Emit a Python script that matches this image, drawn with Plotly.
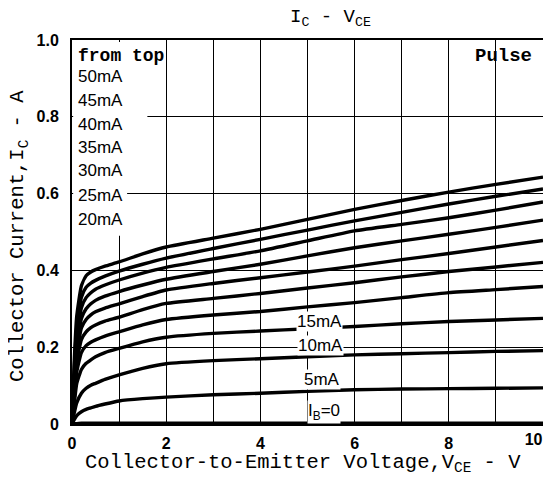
import plotly.graph_objects as go

# Collector-emitter voltage (V)
vce = [0, 0.05, 0.1, 0.2, 0.3, 0.4, 0.5, 0.7, 1, 1.5, 2, 3, 4, 5, 6, 7, 8, 9, 10]

# Collector current (A) for each base current
ic_50 = [0, 0.17, 0.28, 0.36, 0.386, 0.396, 0.402, 0.411, 0.422, 0.443, 0.461, 0.484, 0.507, 0.533, 0.559, 0.582, 0.604, 0.624, 0.643]
ic_45 = [0, 0.15, 0.25, 0.33, 0.356, 0.367, 0.374, 0.385, 0.398, 0.416, 0.432, 0.457, 0.481, 0.505, 0.529, 0.551, 0.573, 0.593, 0.612]
ic_40 = [0, 0.13, 0.225, 0.303, 0.329, 0.342, 0.351, 0.362, 0.375, 0.393, 0.408, 0.430, 0.451, 0.477, 0.503, 0.520, 0.537, 0.557, 0.578]
ic_35 = [0, 0.115, 0.20, 0.275, 0.300, 0.313, 0.322, 0.333, 0.345, 0.362, 0.377, 0.397, 0.416, 0.438, 0.459, 0.477, 0.494, 0.512, 0.531]
ic_30 = [0, 0.10, 0.18, 0.250, 0.272, 0.284, 0.292, 0.302, 0.313, 0.332, 0.349, 0.366, 0.381, 0.396, 0.411, 0.428, 0.444, 0.461, 0.478]
ic_25 = [0, 0.085, 0.16, 0.220, 0.240, 0.251, 0.258, 0.268, 0.278, 0.298, 0.314, 0.327, 0.340, 0.354, 0.368, 0.383, 0.397, 0.409, 0.421]
ic_20 = [0, 0.07, 0.135, 0.186, 0.204, 0.213, 0.219, 0.229, 0.240, 0.258, 0.272, 0.284, 0.293, 0.305, 0.316, 0.329, 0.342, 0.350, 0.358]
ic_15 = [0, 0.055, 0.105, 0.142, 0.158, 0.167, 0.175, 0.186, 0.197, 0.214, 0.226, 0.236, 0.242, 0.248, 0.254, 0.261, 0.267, 0.271, 0.275]
ic_10 = [0, 0.03, 0.055, 0.080, 0.093, 0.101, 0.106, 0.116, 0.128, 0.145, 0.157, 0.165, 0.170, 0.175, 0.180, 0.183, 0.186, 0.189, 0.191]
ic_5 = [0, 0.012, 0.022, 0.032, 0.038, 0.042, 0.046, 0.052, 0.060, 0.066, 0.070, 0.076, 0.080, 0.085, 0.089, 0.091, 0.092, 0.093, 0.094]
ic_0 = [0, 0.001, 0.001, 0.002, 0.002, 0.002, 0.002, 0.002, 0.002, 0.002, 0.002, 0.002, 0.002, 0.002, 0.002, 0.002, 0.002, 0.002, 0.002]

series = [ic_50, ic_45, ic_40, ic_35, ic_30, ic_25, ic_20, ic_15, ic_10, ic_5, ic_0]
series_names = ["50mA", "45mA", "40mA", "35mA", "30mA", "25mA", "20mA", "15mA", "10mA", "5mA", "IB=0"]

# Left legend list
legend_labels = ["50mA", "45mA", "40mA", "35mA", "30mA", "25mA", "20mA"]
legend_y = [0.905, 0.842, 0.779, 0.719, 0.659, 0.596, 0.533]

# Inline labels on lower curves
inline_labels = ["15mA", "10mA", "5mA", "I<sub>B</sub>=0"]
inline_x = [5.25, 5.27, 5.3, 5.35]
inline_y = [0.266, 0.205, 0.115, 0.030]

# x grid every 1 V, labels on even values; the last label sits slightly inside the frame
x_ticks = [0, 1, 2, 3, 4, 5, 6, 7, 8, 9, 10]
x_ticktext = ["0", " ", "2", " ", "4", " ", "6", " ", "8", " ", " "]
x_end_tick = [9.8]
x_end_text = ["10"]
y_ticks = [0, 0.2, 0.4, 0.6, 0.8, 1.0]
y_ticktext = ["0", "0.2", "0.4", "0.6", "0.8", "1.0"]

fig = go.Figure()
for ys, nm in zip(series, series_names):
    fig.add_trace(go.Scatter(x=vce, y=ys, mode="lines", name=nm,
                             line=dict(color="black", width=3.4, shape="spline", smoothing=0.5),
                             showlegend=False, hoverinfo="skip"))
# invisible trace on the helper axis carrying the end label
fig.add_trace(go.Scatter(x=[0, 10], y=[0, 0], xaxis="x2", mode="lines",
                         line=dict(width=0, color="rgba(0,0,0,0)"), showlegend=False, hoverinfo="skip"))

mono = "Liberation Mono"
sans = "Liberation Sans"
tickfont = dict(family=sans, size=16, color="black", weight="bold")

# page body has an 8px offset; figure sized so that the plot frame lands where the reference has it
fig.update_layout(
    width=543, height=472,
    margin=dict(l=64, r=8, t=32, b=56, autoexpand=False),
    paper_bgcolor="white", plot_bgcolor="white",
    xaxis=dict(range=[0, 10], tickvals=x_ticks, ticktext=x_ticktext, automargin=False,
               showgrid=True, gridcolor="black", gridwidth=1.2,
               showline=True, linecolor="black", linewidth=2, mirror=True,
               zeroline=False, ticks="", ticklabelstandoff=4, tickfont=tickfont),
    xaxis2=dict(range=[0, 10], overlaying="x", anchor="y", side="bottom",
                tickvals=x_end_tick, ticktext=x_end_text, automargin=False,
                showgrid=False, showline=False, zeroline=False, ticks="",
                ticklabelstandoff=4, tickfont=tickfont),
    yaxis=dict(range=[0, 1.0], tickvals=y_ticks, ticktext=y_ticktext, automargin=False,
               showgrid=True, gridcolor="black", gridwidth=1.2,
               showline=True, linecolor="black", linewidth=2, mirror=True,
               zeroline=False, ticks="", ticklabelstandoff=8, tickfont=tickfont),
)

# White areas hiding grid behind the left label block
fig.add_shape(type="rect", x0=0.03, x1=1.1, y0=0.49, y1=0.995, xref="x", yref="y",
              fillcolor="white", line=dict(width=0), layer="above")
fig.add_shape(type="rect", x0=0.03, x1=1.6, y0=0.79, y1=0.81, xref="x", yref="y",
              fillcolor="white", line=dict(width=0), layer="above")
fig.add_shape(type="rect", x0=0.03, x1=1.17, y0=0.59, y1=0.61, xref="x", yref="y",
              fillcolor="white", line=dict(width=0), layer="above")

fig.add_annotation(x=0.08, y=0.959, xref="x", yref="y", text="<b>from top</b>", showarrow=False,
                   xanchor="left", yanchor="middle", font=dict(family=mono, size=18, color="black"))
fig.add_annotation(x=9.8, y=0.959, xref="x", yref="y", text="<b>Pulse</b>", showarrow=False,
                   xanchor="right", yanchor="middle", font=dict(family=mono, size=19, color="black"))

for lab, yy in zip(legend_labels, legend_y):
    fig.add_annotation(x=0.08, y=yy, xref="x", yref="y", text=lab, showarrow=False,
                       xanchor="left", yanchor="middle", font=dict(family=sans, size=17, color="black"))

for lab, xx, yy in zip(inline_labels, inline_x, inline_y):
    fig.add_annotation(x=xx, y=yy, xref="x", yref="y", text=lab, showarrow=False,
                       xanchor="center", yanchor="middle", bgcolor="white", borderpad=0,
                       font=dict(family=sans, size=17, color="black"))

# Title and axis titles
fig.add_annotation(x=0.548, y=1.058, xref="paper", yref="paper", text="I<sub>C</sub> - V<sub>CE</sub>",
                   showarrow=False, xanchor="center", yanchor="middle",
                   font=dict(family=mono, size=19, color="black"))
fig.add_annotation(x=0.49, y=-0.103, xref="paper", yref="paper",
                   text="Collector-to-Emitter Voltage,V<sub>CE</sub> - V",
                   showarrow=False, xanchor="center", yanchor="middle",
                   font=dict(family=mono, size=20.5, color="black"))
fig.add_annotation(x=-0.112, y=0.49, xref="paper", yref="paper",
                   text="Collector Current,I<sub>C</sub> - A", textangle=-90,
                   showarrow=False, xanchor="center", yanchor="middle",
                   font=dict(family=mono, size=20.5, color="black"))

fig.write_html("out.html")
